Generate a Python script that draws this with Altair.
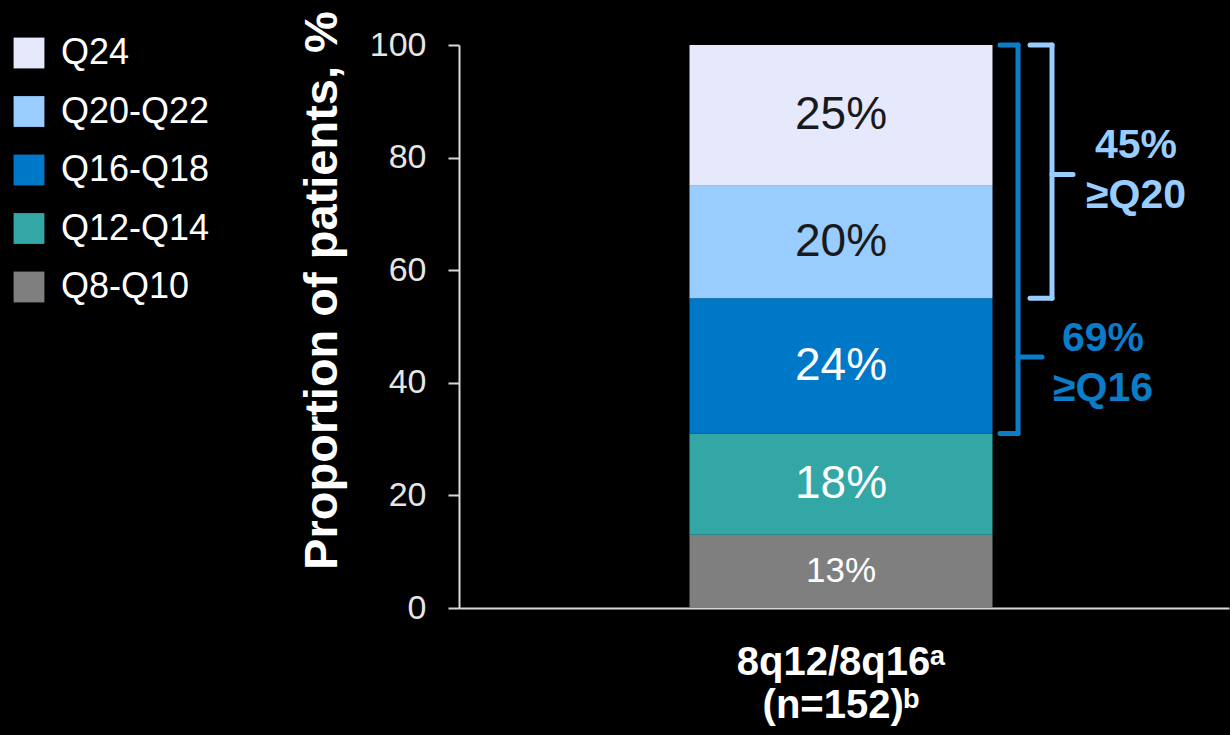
import altair as alt
import pandas as pd

# ---- data ----
categories = ["Q8-Q10", "Q12-Q14", "Q16-Q18", "Q20-Q22", "Q24"]
values = [13, 18, 24, 20, 25]
group_label = "8q12/8q16ᵃ|(n=152)ᵇ"
legend_order = ["Q24", "Q20-Q22", "Q16-Q18", "Q12-Q14", "Q8-Q10"]
colors = {"Q24": "#E6E8FC", "Q20-Q22": "#99CCFF", "Q16-Q18": "#0078C8",
          "Q12-Q14": "#33A6A6", "Q8-Q10": "#7F7F7F"}

bracket_names = ["≥Q16", "≥Q20"]
bracket_lo = [31, 55]
bracket_hi = [100, 100]
bracket_tip = [44.6, 77]
bracket_text = ["69%\n≥Q16", "45%\n≥Q20"]

# ---- table ----
cum = []
s = 0
for v in values:
    cum.append(s + v / 2)
    s += v
df = pd.DataFrame({
    "cat": categories,
    "val": values,
    "rank": list(range(len(categories))),
    "mid": cum,
    "label": [f"{v}%" for v in values],
    "grp": [group_label] * len(categories),
})

W, H = 770, 563
FONT = "Liberation Sans"

base = alt.Chart(df)

bars = base.mark_bar(width=303, xOffset=-3).encode(
    x=alt.X("grp:N", title=None,
            axis=alt.Axis(labelExpr="split(datum.label, '|')", labelAngle=0,
                          labelFontSize=40, labelFontWeight="bold", labelColor="#FFFFFF",
                          labelFont=FONT, labelLineHeight=43, labelPadding=34,
                          labelLimit=0, labelOffset=-3, ticks=False,
                          domainColor="#D9D9D9", domainWidth=2)),
    y=alt.Y("val:Q", stack="zero", title="Proportion of patients, %",
            scale=alt.Scale(domain=[0, 100], nice=False),
            axis=alt.Axis(values=[0, 20, 40, 60, 80, 100], grid=False,
                          labelFontSize=34, labelColor="#E6E6E6", labelFont=FONT,
                          labelPadding=22, tickSize=11, tickColor="#D9D9D9", tickWidth=2,
                          domainColor="#D9D9D9", domainWidth=2,
                          titleFontSize=47, titleFontWeight="bold", titleColor="#FFFFFF",
                          titleFont=FONT, titleAngle=-90, titleX=-123, titleY=245,
                          titleAlign="center", titleBaseline="alphabetic")),
    color=alt.Color("cat:N",
                    scale=alt.Scale(domain=legend_order, range=[colors[c] for c in legend_order]),
                    legend=alt.Legend(title=None, orient="none", legendX=-448, legendY=-10,
                                      symbolType="square", symbolSize=950,
                                      symbolStrokeWidth=1, labelFontSize=36,
                                      labelColor="#FFFFFF", labelFont=FONT,
                                      labelOffset=14, rowPadding=22.5, padding=0)),
    order=alt.Order("rank:Q"),
)

big = base.transform_filter("datum.cat != 'Q8-Q10'").mark_text(
    fontSize=46, font=FONT, baseline="middle", xOffset=-3).encode(
    x=alt.X("grp:N"),
    y=alt.Y("mid:Q"),
    text="label:N",
    color=alt.condition("datum.cat == 'Q24' || datum.cat == 'Q20-Q22'",
                        alt.value("#1A1A1A"), alt.value("#FFFFFF")),
)
small = base.transform_filter("datum.cat == 'Q8-Q10'").mark_text(
    fontSize=35, font=FONT, baseline="middle", color="#FFFFFF", xOffset=-3).encode(
    x=alt.X("grp:N"),
    y=alt.Y("mid:Q"),
    text="label:N",
)

layers = [bars, big, small]

# bracket styles (pixel x offsets from the plot's left edge)
styles = [
    {"color": "#0A7CC8", "hook": 541, "vx": 559, "tip": 583, "tx": 644, "ty": 294},
    {"color": "#99CCFF", "hook": 571, "vx": 593, "tip": 614, "tx": 677, "ty": 101},
]
for i, st in enumerate(styles):
    bdf = pd.DataFrame({"lo": [bracket_lo[i]], "hi": [bracket_hi[i]],
                        "tip": [bracket_tip[i]], "txt": [bracket_text[i]]})
    b = alt.Chart(bdf)
    rk = dict(color=st["color"], strokeWidth=5, strokeCap="round")
    layers += [
        b.mark_rule(**rk).encode(x=alt.value(st["vx"]), y="lo:Q", y2="hi:Q"),
        b.mark_rule(**rk).encode(x=alt.value(st["hook"]), x2=alt.value(st["vx"]), y="hi:Q"),
        b.mark_rule(**rk).encode(x=alt.value(st["hook"]), x2=alt.value(st["vx"]), y="lo:Q"),
        b.mark_rule(**rk).encode(x=alt.value(st["vx"]), x2=alt.value(st["tip"]), y="tip:Q"),
        b.mark_text(color=st["color"], fontSize=41, fontWeight="bold", font=FONT,
                    lineBreak="\n", lineHeight=50, baseline="middle", align="center").encode(
            x=alt.value(st["tx"]), y=alt.value(st["ty"]), text="txt:N"),
    ]

chart = alt.layer(*layers).properties(
    width=W, height=H,
    background="#000000",
    padding={"left": 459, "top": 45, "right": 1, "bottom": 127},
    autosize=alt.AutoSizeParams(type="none"),
).configure_view(stroke=None).configure_scale(bandPaddingInner=0.2)

chart.save("out.html", embed_options={"renderer": "svg", "actions": False})
